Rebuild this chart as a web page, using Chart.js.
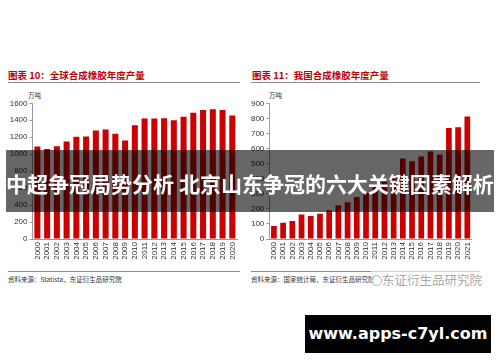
<!DOCTYPE html>
<html>
<head>
<meta charset="utf-8">
<script src="https://cdn.jsdelivr.net/npm/chart.js@4"></script>
<style>
  body { margin: 0; width: 500px; height: 362px; background: #fff; position: relative; overflow: hidden;
         font-family: "Noto Sans CJK SC", "Liberation Sans", sans-serif; }
  .abs { position: absolute; white-space: nowrap; }
  .title { font-size: 9.5px; font-weight: bold; color: #c00000; top: 68px; }
  .rule { position: absolute; height: 1px; background: #8a8a8a; }
  .unit { font-size: 6.5px; color: #333; top: 90px; }
  .src { font-size: 6.5px; color: #333; top: 274px; }
  canvas { position: absolute; }
</style>
</head>
<body>
<div class="abs title" style="left:8px">图表 10：全球合成橡胶年度产量</div>
<div class="abs title" style="left:252px">图表 11：我国合成橡胶年度产量</div>
<div class="rule" style="left:8px;width:232px;top:82px"></div>
<div class="rule" style="left:251px;width:229px;top:82px"></div>
<div class="abs unit" style="left:28px">万吨</div>
<div class="abs unit" style="left:269px">万吨</div>

<canvas id="globalRubber" style="left:0;top:90px" width="245" height="172"></canvas>
<canvas id="chinaRubber" style="left:250px;top:90px" width="230" height="172"></canvas>

<div class="rule" style="left:8px;width:232px;top:271px"></div>
<div class="rule" style="left:251px;width:229px;top:271px"></div>
<div class="abs src" style="left:8px">资料来源：Statista，东证衍生品研究院</div>
<div class="abs src" style="left:251px">资料来源：国家统计局，东证衍生品研究院</div>
<div class="abs" style="left:371px;top:270px;font-size:12.5px;color:#a8a8a8;background:rgba(255,255,255,0.6)">
  <span style="display:inline-block;width:9px;height:9px;border:1px solid #b0b0b0;border-radius:50%;vertical-align:-1px"></span>东证衍生品研究院</div>

<div class="abs" style="left:6px;top:150px;width:488px;height:62px;background:rgba(0,0,0,0.6)"></div>
<div class="abs" style="left:0;top:170px;width:500px;text-align:center;font-size:21px;font-weight:bold;color:#fff;line-height:26px">中超争冠局势分析 北京山东争冠的六大关键因素解析</div>

<div class="abs" style="left:305px;top:315px;width:186px;height:38px;background:#000;color:#fff;font-family:'DejaVu Sans',sans-serif;font-weight:bold;font-size:16px;line-height:38px;text-align:center">www.apps-c7yl.com</div>

<script>
// global synthetic rubber output, 10k tonnes
const globalYears = ["2000","2001","2002","2003","2004","2005","2006","2007","2008","2009","2010",
  "2011","2012","2013","2014","2015","2016","2017","2018","2019","2020"];
const globalOutput = [1090, 1060, 1095, 1150, 1205, 1210, 1280, 1290, 1240, 1160, 1340,
  1420, 1420, 1425, 1400, 1440, 1490, 1520, 1530, 1520, 1455];

// china synthetic rubber output, 10k tonnes
const chinaYears = ["2000","2001","2002","2003","2004","2005","2006","2007","2008","2009","2010",
  "2011","2012","2013","2014","2015","2016","2017","2018","2019","2020","2021"];
const chinaOutput = [86, 108, 120, 163, 152, 168, 190, 224, 243, 278, 310,
  349, 379, 408, 534, 516, 547, 580, 561, 736, 741, 813];

const barRed = "rgb(204, 0, 0)";
const axisGray = "#9a9a9a";
const tickFont = { family: "Liberation Sans, Arial, sans-serif", size: 8 };

function makeChart(id, labels, data, max, step, axisWidth, padRight) {
  return new Chart(document.getElementById(id).getContext("2d"), {
    type: "bar",
    data: {
      labels: labels,
      datasets: [
        {
          data: data,
          backgroundColor: barRed,
          borderWidth: 0,
          barPercentage: 0.62,
          categoryPercentage: 1,
        },
      ],
    },
    options: {
      responsive: false,
      animation: false,
      layout: { padding: { top: 13.3, right: padRight, left: 0, bottom: 0 } },
      plugins: {
        legend: { display: false },
        tooltip: { enabled: false },
      },
      scales: {
        x: {
          grid: { display: false, drawTicks: false },
          border: { color: axisGray, width: 1 },
          ticks: {
            color: "#333",
            font: tickFont,
            minRotation: 90,
            maxRotation: 90,
            autoSkip: false,
            padding: 3,
          },
          afterFit: (scale) => {
            scale.height = 23;
          },
        },
        y: {
          min: 0,
          max: max,
          grid: { drawOnChartArea: false, tickLength: 3, color: axisGray },
          border: { color: axisGray, width: 1 },
          ticks: {
            stepSize: step,
            color: "#333",
            font: tickFont,
            padding: 2,
            callback: (value) => String(value),
          },
          afterFit: (scale) => {
            scale.width = axisWidth;
          },
        },
      },
    },
  });
}

const globalChart = makeChart("globalRubber", globalYears, globalOutput, 1600, 200, 32.5, 3.7);
const chinaChart = makeChart("chinaRubber", chinaYears, chinaOutput, 900, 100, 19.3, 4);
</script>
</body>
</html>
